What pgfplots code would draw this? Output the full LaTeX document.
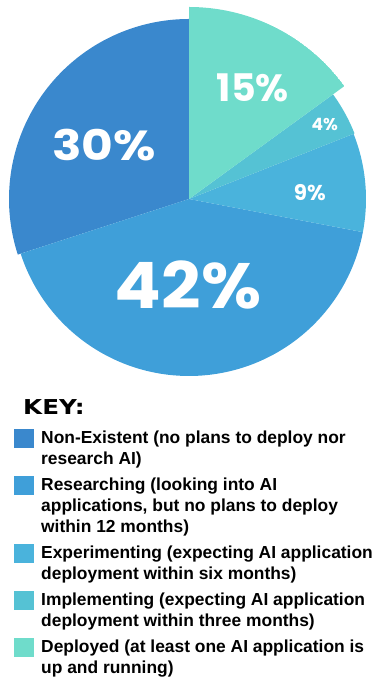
\documentclass[border=0pt]{standalone}
\usepackage{fontspec}
\setmainfont{Liberation Sans}
\newfontfamily\pfont{Poppins}
\newfontfamily\kfont{DejaVu Sans}
\usepackage{pgfplots}
\pgfplotsset{compat=1.18}
\usepgfplotslibrary{polar}
\definecolor{cNon}{HTML}{3A88CD}
\definecolor{cRes}{HTML}{3F9FD9}
\definecolor{cExp}{HTML}{4AB3DC}
\definecolor{cImp}{HTML}{55C2D4}
\definecolor{cDep}{HTML}{6FDCCB}
\newcommand\entry[1]{\parbox[t]{340bp}{\raggedright\rule{0pt}{15bp}#1\rule[-4.5bp]{0pt}{4.5bp}}}
\begin{document}
\begin{tikzpicture}[x=1bp,y=1bp]
\useasboundingbox (0,0) rectangle (376,680);
% Shares (percent): Non-Existent 30, Researching 42, Experimenting 9, Implementing 4, Deployed 15
% slices run clockwise from 12 o'clock: angle = 90 - 3.6*cumulative share
\begin{polaraxis}[
  hide axis,
  scale only axis,
  width=384bp, height=384bp,
  xmin=0, xmax=360, ymin=0, ymax=192,
  at={(189,481)}, anchor=origin,
  legend style={at={(0.04427,-0.09766)}, anchor=north west, draw=none, fill=none,
    inner sep=0pt, row sep=6.5bp, column sep=7.5bp,
    font=\fontsize{17.4bp}{21bp}\selectfont\bfseries,
    cells={anchor=base west},
    nodes={inner sep=0pt, text depth={}, text height={}}},
  legend image code/.code={\pgftransformresetnontranslations
    \fill[#1] (0bp,-4.5bp) rectangle (19.5bp,15bp);},
]
% Non-Existent 30%: 90 -> 198 (i.e. -162)
\addplot[fill=cNon, draw=none, domain=90:198, samples=80] {180} -- (axis cs:0,0) -- cycle;
\addlegendentry{\entry{Non-Existent (no plans to deploy nor\\research AI)}}
% Researching 42%: -162 -> -10.8
\addplot[fill=cRes, draw=none, domain=198:349.2, samples=100] {177} -- (axis cs:0,0) -- cycle;
\addlegendentry{\entry{Researching (looking into AI\\applications, but no plans to deploy\\within 12 months)}}
% Experimenting 9%: -10.8 -> 21.6
\addplot[fill=cExp, draw=none, domain=-10.8:21.6, samples=30] {177} -- (axis cs:0,0) -- cycle;
\addlegendentry{\entry{Experimenting (expecting AI application\\deployment within six months)}}
% Implementing 4%: 21.6 -> 36
\addplot[fill=cImp, draw=none, domain=21.6:36, samples=20] {178} -- (axis cs:0,0) -- cycle;
\addlegendentry{\entry{Implementing (expecting AI application\\deployment within three months)}}
% Deployed 15%: 36 -> 90
\addplot[fill=cDep, draw=none, domain=36:90, samples=50] {192} -- (axis cs:0,0) -- cycle;
\addlegendentry{\entry{Deployed (at least one AI application is\\up and running)}}
\node[white, font=\pfont\bfseries\fontsize{42bp}{42bp}\selectfont] at (axis cs:147.6,100.7) {\scalebox{1.16}[1]{30\%}};
\node[white, font=\pfont\bfseries\fontsize{64bp}{64bp}\selectfont] at (axis cs:-90.7,86) {\scalebox{1.08}[1]{42\%}};
\node[white, font=\pfont\bfseries\fontsize{38bp}{38bp}\selectfont] at (axis cs:60,128) {15\%};
\node[white, font=\pfont\bfseries\fontsize{17bp}{17bp}\selectfont] at (axis cs:28.9,155) {4\%};
\node[white, font=\pfont\bfseries\fontsize{21.5bp}{21.5bp}\selectfont] at (axis cs:2.8,121) {9\%};
\end{polaraxis}
\node[anchor=base west, inner sep=0pt, font=\kfont\bfseries\fontsize{20.5bp}{20.5bp}\selectfont] at (23,265) {\scalebox{1.2}[1]{KEY:}};
\end{tikzpicture}
\end{document}
